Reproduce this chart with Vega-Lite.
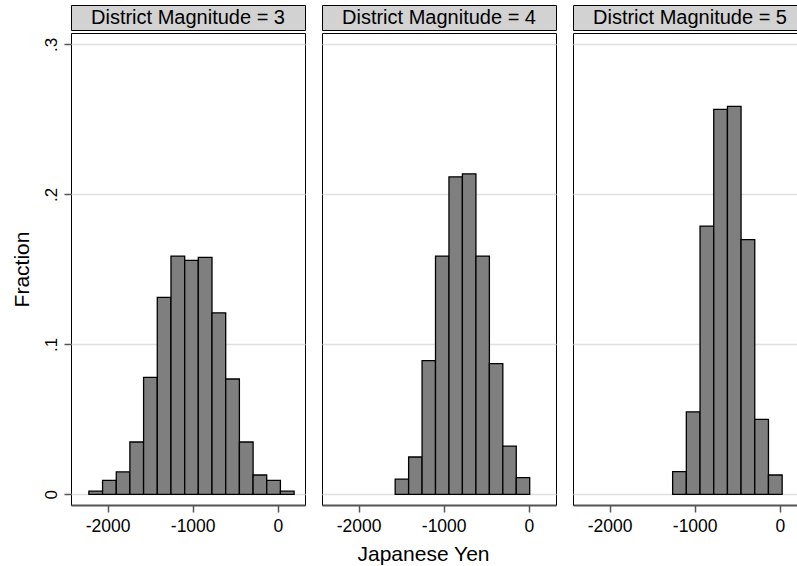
{
  "$schema": "https://vega.github.io/schema/vega-lite/v6.json",
  "padding": {"left": 10, "top": 4, "right": 0, "bottom": 0},
  "background": "white",
  "config": {
    "font": "Liberation Sans",
    "view": {"stroke": "black", "strokeWidth": 1},
    "axis": {
      "labelFont": "Liberation Sans",
      "titleFont": "Liberation Sans",
      "labelColor": "black",
      "titleColor": "black",
      "titleFontWeight": "normal",
      "gridColor": "#e0e0e0",
      "gridWidth": 1.3
    }
  },
  "datasets": {
    "bins": [
      {"dm": 3, "start": -2220, "end": -2059, "fraction": 0.0022},
      {"dm": 3, "start": -2059, "end": -1898, "fraction": 0.0093},
      {"dm": 3, "start": -1898, "end": -1738, "fraction": 0.015},
      {"dm": 3, "start": -1738, "end": -1577, "fraction": 0.0349},
      {"dm": 3, "start": -1577, "end": -1416, "fraction": 0.078},
      {"dm": 3, "start": -1416, "end": -1255, "fraction": 0.1313},
      {"dm": 3, "start": -1255, "end": -1094, "fraction": 0.1589},
      {"dm": 3, "start": -1094, "end": -934, "fraction": 0.156},
      {"dm": 3, "start": -934, "end": -773, "fraction": 0.158},
      {"dm": 3, "start": -773, "end": -612, "fraction": 0.121},
      {"dm": 3, "start": -612, "end": -451, "fraction": 0.0769},
      {"dm": 3, "start": -451, "end": -290, "fraction": 0.0349},
      {"dm": 3, "start": -290, "end": -130, "fraction": 0.0129},
      {"dm": 3, "start": -130, "end": 31, "fraction": 0.0093},
      {"dm": 3, "start": 31, "end": 192, "fraction": 0.0022},
      {"dm": 4, "start": -1570, "end": -1412, "fraction": 0.0102},
      {"dm": 4, "start": -1412, "end": -1254, "fraction": 0.0249},
      {"dm": 4, "start": -1254, "end": -1096, "fraction": 0.0891},
      {"dm": 4, "start": -1096, "end": -938, "fraction": 0.1589},
      {"dm": 4, "start": -938, "end": -780, "fraction": 0.2117},
      {"dm": 4, "start": -780, "end": -621, "fraction": 0.2137},
      {"dm": 4, "start": -621, "end": -463, "fraction": 0.1589},
      {"dm": 4, "start": -463, "end": -305, "fraction": 0.0871},
      {"dm": 4, "start": -305, "end": -147, "fraction": 0.0322},
      {"dm": 4, "start": -147, "end": 11, "fraction": 0.0111},
      {"dm": 5, "start": -1259, "end": -1098, "fraction": 0.0151},
      {"dm": 5, "start": -1098, "end": -937, "fraction": 0.055},
      {"dm": 5, "start": -937, "end": -776, "fraction": 0.1789},
      {"dm": 5, "start": -776, "end": -615, "fraction": 0.2567},
      {"dm": 5, "start": -615, "end": -455, "fraction": 0.2587},
      {"dm": 5, "start": -455, "end": -294, "fraction": 0.1698},
      {"dm": 5, "start": -294, "end": -133, "fraction": 0.05},
      {"dm": 5, "start": -133, "end": 28, "fraction": 0.0129}
    ],
    "panels": [
      {"dm": 3, "label": "District Magnitude = 3"},
      {"dm": 4, "label": "District Magnitude = 4"},
      {"dm": 5, "label": "District Magnitude = 5"}
    ]
  },
  "spacing": 15,
  "hconcat": [
    {
      "spacing": 1,
      "vconcat": [
        {
          "width": 234, "height": 25,
          "data": {"name": "panels"},
          "transform": [{"filter": "datum.dm == 3"}],
          "mark": {"type": "text", "fontSize": 20, "font": "Liberation Sans", "color": "black", "align": "center", "baseline": "middle"},
          "encoding": {"text": {"field": "label"}},
          "view": {"fill": "#d2d2d2", "stroke": "black", "strokeWidth": 1}
        },
        {
          "width": 234, "height": 472,
          "data": {"name": "bins"},
          "transform": [{"filter": "datum.dm == 3"}],
          "mark": {"type": "bar", "fill": "#7f7f7f", "stroke": "black", "strokeWidth": 1.3, "clip": true},
          "encoding": {
            "x": {"field": "start", "type": "quantitative",
              "scale": {"domain": [-2430, 320], "nice": false, "zero": false},
              "axis": {"values": [-2000, -1000, 0], "title": null, "grid": false, "labelExpr": "'' + datum.value",
                "domainColor": "#555", "domainWidth": 2, "tickColor": "#555", "tickWidth": 1.5, "tickSize": 7,
                "labelFontSize": 17.5, "labelPadding": 5, "labelFlush": false}},
            "x2": {"field": "end"},
            "y": {"field": "fraction", "type": "quantitative",
              "scale": {"domain": [-0.0071, 0.3076], "nice": false, "zero": false},
              "axis": {"values": [0, 0.1, 0.2, 0.3], "title": "Fraction", "titleFontSize": 21, "titlePadding": 10,
                "labelExpr": "datum.value == 0 ? '0' : replace(format(datum.value, '.1f'), '0.', '.')",
                "labelAngle": 270, "labelAlign": "center", "labelBaseline": "bottom", "labelFontSize": 17, "labelPadding": 4,
                "domain": false, "tickColor": "#555", "tickWidth": 1.5, "tickSize": 7, "grid": true}},
            "y2": {"datum": 0}
          }
        }
      ]
    },
    {
      "spacing": 1,
      "vconcat": [
        {
          "width": 234, "height": 25,
          "data": {"name": "panels"},
          "transform": [{"filter": "datum.dm == 4"}],
          "mark": {"type": "text", "fontSize": 20, "font": "Liberation Sans", "color": "black", "align": "center", "baseline": "middle"},
          "encoding": {"text": {"field": "label"}},
          "view": {"fill": "#d2d2d2", "stroke": "black", "strokeWidth": 1}
        },
        {
          "width": 234, "height": 472,
          "data": {"name": "bins"},
          "transform": [{"filter": "datum.dm == 4"}],
          "mark": {"type": "bar", "fill": "#7f7f7f", "stroke": "black", "strokeWidth": 1.3, "clip": true},
          "encoding": {
            "x": {"field": "start", "type": "quantitative",
              "scale": {"domain": [-2430, 320], "nice": false, "zero": false},
              "axis": {"values": [-2000, -1000, 0], "title": "Japanese Yen", "titleFontSize": 21,
                "titleX": 101, "titleY": 55, "titleBaseline": "alphabetic", "titleAlign": "center",
                "grid": false, "labelExpr": "'' + datum.value",
                "domainColor": "#555", "domainWidth": 2, "tickColor": "#555", "tickWidth": 1.5, "tickSize": 7,
                "labelFontSize": 17.5, "labelPadding": 5, "labelFlush": false}},
            "x2": {"field": "end"},
            "y": {"field": "fraction", "type": "quantitative",
              "scale": {"domain": [-0.0071, 0.3076], "nice": false, "zero": false},
              "axis": {"values": [0, 0.1, 0.2, 0.3], "title": null, "labels": false, "ticks": false, "domain": false, "grid": true}},
            "y2": {"datum": 0}
          }
        }
      ]
    },
    {
      "spacing": 1,
      "vconcat": [
        {
          "width": 234, "height": 25,
          "data": {"name": "panels"},
          "transform": [{"filter": "datum.dm == 5"}],
          "mark": {"type": "text", "fontSize": 20, "font": "Liberation Sans", "color": "black", "align": "center", "baseline": "middle"},
          "encoding": {"text": {"field": "label"}},
          "view": {"fill": "#d2d2d2", "stroke": "black", "strokeWidth": 1}
        },
        {
          "width": 234, "height": 472,
          "data": {"name": "bins"},
          "transform": [{"filter": "datum.dm == 5"}],
          "mark": {"type": "bar", "fill": "#7f7f7f", "stroke": "black", "strokeWidth": 1.3, "clip": true},
          "encoding": {
            "x": {"field": "start", "type": "quantitative",
              "scale": {"domain": [-2430, 320], "nice": false, "zero": false},
              "axis": {"values": [-2000, -1000, 0], "title": null, "grid": false, "labelExpr": "'' + datum.value",
                "domainColor": "#555", "domainWidth": 2, "tickColor": "#555", "tickWidth": 1.5, "tickSize": 7,
                "labelFontSize": 17.5, "labelPadding": 5, "labelFlush": false}},
            "x2": {"field": "end"},
            "y": {"field": "fraction", "type": "quantitative",
              "scale": {"domain": [-0.0071, 0.3076], "nice": false, "zero": false},
              "axis": {"values": [0, 0.1, 0.2, 0.3], "title": null, "labels": false, "ticks": false, "domain": false, "grid": true}},
            "y2": {"datum": 0}
          }
        }
      ]
    }
  ]
}
